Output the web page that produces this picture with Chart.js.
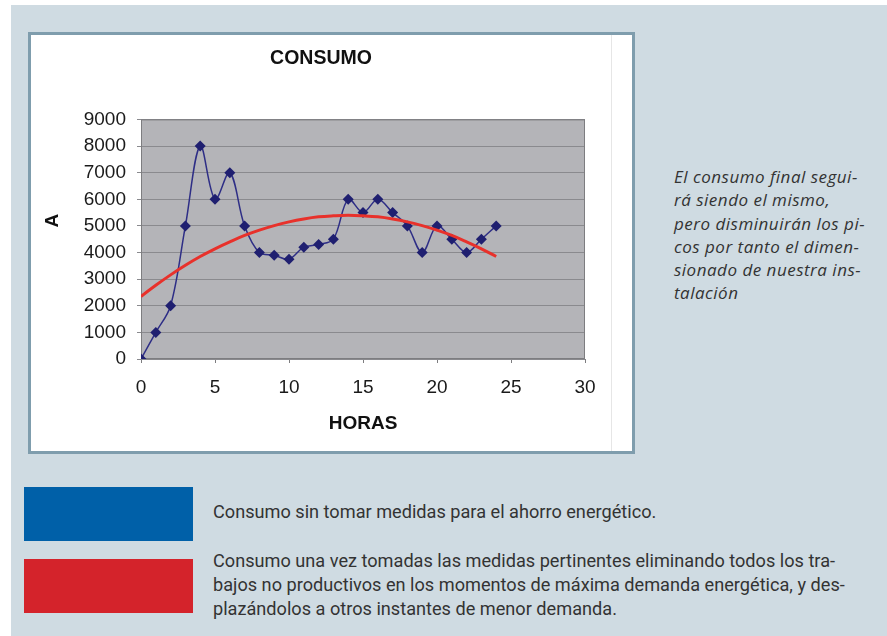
<!DOCTYPE html>
<html lang="es">
<head>
<meta charset="utf-8">
<title>CONSUMO</title>
<script src="https://cdn.jsdelivr.net/npm/chart.js@4.4.0/dist/chart.umd.min.js"></script>
<style>
    body { margin: 0; width: 887px; height: 636px; background: #fff; position: relative; overflow: hidden; }
    #fondo { position: absolute; left: 11px; top: 5px; right: 0; bottom: 0; background: #cfdbe2; }
    #caja { position: absolute; left: 28px; top: 32px; width: 601px; height: 416px; border: 3px solid #7f9dad; background: #fff; }
    #marco { position: absolute; left: 0; top: 0; width: 580px; height: 416px; border-right: 1px solid #e6e6e6; }
    #nota { position: absolute; left: 674px; top: 165px; width: 212px; font: italic 17px "Open Sans", sans-serif; letter-spacing: 0.5px; line-height: 23.3px; color: #333; white-space: nowrap; }
    .muestra { position: absolute; left: 24px; width: 169px; height: 54px; }
    #azul { top: 487px; background: #0060a8; }
    #rojo { top: 559px; background: #d4232b; }
    .texto { position: absolute; left: 213px; font: 19px Roboto, sans-serif; line-height: 24px; color: #333; white-space: nowrap; transform: scaleX(0.955); transform-origin: left top; }
    #texto1 { top: 500px; }
    #texto2 { top: 549px; }
</style>
</head>
<body>
<div id="fondo"></div>
<div id="caja">
    <div id="marco"><canvas id="consumo" width="580" height="416"></canvas></div>
</div>
<div id="nota">El consumo final segui-<br>rá siendo el mismo,<br>pero disminuirán los pi-<br>cos por tanto el dimen-<br>sionado de nuestra ins-<br>talación</div>
<div class="muestra" id="azul"></div>
<div class="muestra" id="rojo"></div>
<div class="texto" id="texto1">Consumo sin tomar medidas para el ahorro energético.</div>
<div class="texto" id="texto2">Consumo una vez tomadas las medidas pertinentes eliminando todos los tra-<br>bajos no productivos en los momentos de máxima demanda energética, y des-<br>plazándolos a otros instantes de menor demanda.</div>

<script>
// Datos
const horas = [0, 1, 2, 3, 4, 5, 6, 7, 8, 9, 10, 11, 12, 13, 14, 15, 16, 17, 18, 19, 20, 21, 22, 23, 24];
const consumoSinMedidas = [0, 1000, 2000, 5000, 8000, 6000, 7000, 5000, 4000, 3900, 3750, 4200, 4300, 4500, 6000, 5500, 6000, 5500, 5000, 4000, 5000, 4500, 4000, 4500, 5000];
const consumoConMedidas = [2350, 2770, 3160, 3520, 3850, 4140, 4400, 4640, 4840, 5010, 5150, 5260, 5340, 5380, 5400, 5380, 5340, 5260, 5150, 5010, 4840, 4640, 4400, 4140, 3850];
const ticksX = [0, 5, 10, 15, 20, 25, 30];
const ticksY = [0, 1000, 2000, 3000, 4000, 5000, 6000, 7000, 8000, 9000];

// Pasar a puntos {x, y}
const puntosSin = horas.map((h, i) => ({ x: h, y: consumoSinMedidas[i] }));
const puntosCon = horas.map((h, i) => ({ x: h, y: consumoConMedidas[i] }));

// Fondo gris y borde del área de trazado
const fondoGrafica = {
    id: 'fondoGrafica',
    beforeDraw(chart) {
        const { ctx, chartArea: { left, top, width, height } } = chart;
        ctx.save();
        ctx.fillStyle = '#b4b4b8';
        ctx.fillRect(left, top, width, height);
        ctx.restore();
    },
    beforeDatasetsDraw(chart) {
        const { ctx, chartArea: { left, top, width, height } } = chart;
        ctx.save();
        ctx.strokeStyle = '#7d7d80';
        ctx.lineWidth = 1;
        ctx.strokeRect(left + 0.5, top + 0.5, width - 1, height - 1);
        ctx.restore();
    }
};

const fuente = 'Liberation Sans, Arial, sans-serif';
const ctx = document.getElementById('consumo').getContext('2d');
const grafica = new Chart(ctx, {
    type: 'line',
    data: {
        datasets: [{
            label: 'Con medidas',
            data: puntosCon,
            borderColor: '#e8312b',
            borderWidth: 3,
            pointRadius: 0,
            tension: 0.4,
            order: 0
        }, {
            label: 'Sin medidas',
            data: puntosSin,
            borderColor: '#2e2e86',
            borderWidth: 1.5,
            backgroundColor: '#1f1f70',
            pointStyle: 'rectRot',
            pointRadius: 5.5,
            pointBorderWidth: 0,
            tension: 0.35,
            order: 1
        }]
    },
    options: {
        responsive: false,
        animation: false,
        layout: { padding: { left: 26, right: 26 } },
        scales: {
            x: {
                type: 'linear',
                min: 0,
                max: 30,
                afterBuildTicks: function(scale) {
                    scale.ticks = ticksX.map(v => ({ value: v }));
                },
                afterFit: function(scale) { scale.height = 92; },
                grid: { drawOnChartArea: false, tickLength: 4, color: '#7d7d80' },
                border: { display: false },
                ticks: {
                    color: '#1a1a1a',
                    padding: 13,
                    font: { family: fuente, size: 19 },
                    callback: function(value) { return String(value); }
                },
                title: {
                    display: true,
                    text: 'HORAS',
                    color: '#111',
                    padding: { top: 0, bottom: 16 },
                    font: { family: fuente, size: 19, weight: 'bold' }
                }
            },
            y: {
                min: 0,
                max: 9000,
                afterBuildTicks: function(scale) {
                    scale.ticks = ticksY.map(v => ({ value: v }));
                },
                afterFit: function(scale) { scale.width = 84; },
                grid: { color: '#8a8a8e', tickLength: 4 },
                border: { display: false },
                ticks: {
                    color: '#1a1a1a',
                    padding: 11,
                    font: { family: fuente, size: 19 },
                    callback: function(value) { return String(value); }
                },
                title: {
                    display: true,
                    text: '       A',
                    color: '#111',
                    padding: { top: -16, bottom: 0 },
                    font: { family: fuente, size: 19, weight: 'bold' }
                }
            }
        },
        plugins: {
            legend: { display: false },
            tooltip: { enabled: false },
            title: {
                display: true,
                text: 'CONSUMO',
                color: '#111',
                padding: { top: 12, bottom: 49 },
                font: { family: fuente, size: 19.5, weight: 'bold' }
            }
        }
    },
    plugins: [fondoGrafica]
});
</script>
</body>
</html>
